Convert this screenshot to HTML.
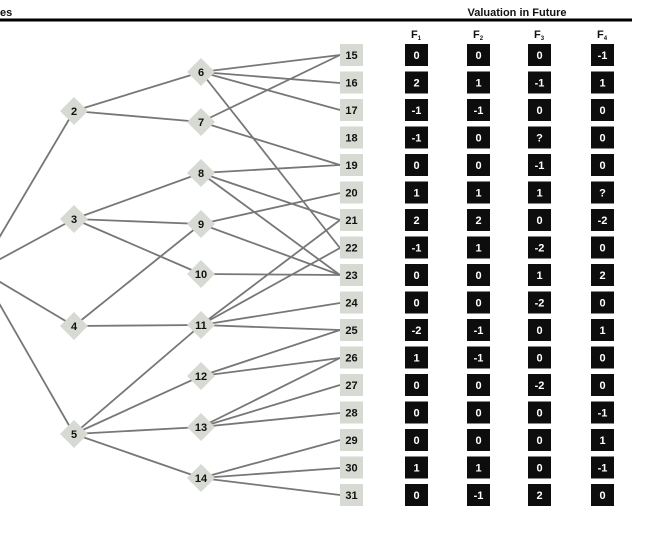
<!DOCTYPE html>
<html><head><meta charset="utf-8"><style>
html,body{margin:0;padding:0;background:#fff;width:646px;height:545px;overflow:hidden}
svg{display:block}
text{font-family:"Liberation Sans Narrow","Liberation Sans",sans-serif;font-weight:bold;font-size:11px}
</style></head><body>
<svg width="646" height="545" viewBox="0 0 646 545">
<text x="0" y="16" fill="#111">es</text>
<text x="517" y="16" fill="#111" text-anchor="middle">Valuation in Future</text>
<rect x="0" y="18.5" width="632" height="3" fill="#000"/>
<g fill="#111" text-anchor="middle">
<text x="416" y="38">F<tspan font-size="6" dy="2">1</tspan></text>
<text x="478" y="38">F<tspan font-size="6" dy="2">2</tspan></text>
<text x="539" y="38">F<tspan font-size="6" dy="2">3</tspan></text>
<text x="602" y="38">F<tspan font-size="6" dy="2">4</tspan></text>
</g>
<g stroke="#777" stroke-width="1.8" fill="none">
<line x1="-20" y1="270" x2="74" y2="111"/><line x1="-20" y1="270" x2="74" y2="219"/>
<line x1="-20" y1="270" x2="74" y2="326"/><line x1="-20" y1="270" x2="74" y2="434"/>
<line x1="74" y1="111" x2="201" y2="72"/><line x1="74" y1="111" x2="201" y2="122"/>
<line x1="74" y1="219" x2="201" y2="173"/><line x1="74" y1="219" x2="201" y2="224"/><line x1="74" y1="219" x2="201" y2="274"/>
<line x1="74" y1="326" x2="201" y2="224"/><line x1="74" y1="326" x2="201" y2="325"/>
<line x1="74" y1="434" x2="201" y2="325"/><line x1="74" y1="434" x2="201" y2="376"/><line x1="74" y1="434" x2="201" y2="427"/><line x1="74" y1="434" x2="201" y2="478"/>
<line x1="201" y1="72" x2="340" y2="55"/><line x1="201" y1="72" x2="340" y2="83"/><line x1="201" y1="72" x2="340" y2="110"/><line x1="201" y1="72" x2="340" y2="248"/>
<line x1="201" y1="122" x2="340" y2="55"/><line x1="201" y1="122" x2="340" y2="165"/>
<line x1="201" y1="173" x2="340" y2="165"/><line x1="201" y1="173" x2="340" y2="220"/><line x1="201" y1="173" x2="340" y2="275"/>
<line x1="201" y1="224" x2="340" y2="193"/><line x1="201" y1="224" x2="340" y2="275"/>
<line x1="201" y1="274" x2="340" y2="275"/>
<line x1="201" y1="325" x2="340" y2="220"/><line x1="201" y1="325" x2="340" y2="248"/><line x1="201" y1="325" x2="340" y2="303"/><line x1="201" y1="325" x2="340" y2="330"/>
<line x1="201" y1="376" x2="340" y2="330"/><line x1="201" y1="376" x2="340" y2="358"/>
<line x1="201" y1="427" x2="340" y2="358"/><line x1="201" y1="427" x2="340" y2="385"/><line x1="201" y1="427" x2="340" y2="413"/>
<line x1="201" y1="478" x2="340" y2="440"/><line x1="201" y1="478" x2="340" y2="468"/><line x1="201" y1="478" x2="340" y2="495"/>
</g>
<g id="dia" fill="#d6dad3"></g>
<g fill="#111" text-anchor="middle">
<text x="74" y="115">2</text><text x="74" y="223">3</text><text x="74" y="330">4</text><text x="74" y="438">5</text>
<text x="201" y="76">6</text><text x="201" y="126">7</text><text x="201" y="177">8</text><text x="201" y="228">9</text><text x="201" y="278">10</text><text x="201" y="329">11</text><text x="201" y="380">12</text><text x="201" y="431">13</text><text x="201" y="482">14</text>
</g>
<g id="rows"></g>
</svg>
<script>
var pts=[[74,111],[74,219],[74,326],[74,434],[201,72],[201,122],[201,173],[201,224],[201,274],[201,325],[201,376],[201,427],[201,478]],d="";
for(var k=0;k<pts.length;k++){var x=pts[k][0],y=pts[k][1];d+='<polygon points="'+x+','+(y-14)+' '+(x+14)+','+y+' '+x+','+(y+14)+' '+(x-14)+','+y+'"/>';}
document.getElementById("dia").innerHTML=d;
var vals=[["0","0","0","-1"],["2","1","-1","1"],["-1","-1","0","0"],["-1","0","?","0"],["0","0","-1","0"],["1","1","1","?"],["2","2","0","-2"],["-1","1","-2","0"],["0","0","1","2"],["0","0","-2","0"],["-2","-1","0","1"],["1","-1","0","0"],["0","0","-2","0"],["0","0","0","-1"],["0","0","0","1"],["1","1","0","-1"],["0","-1","2","0"]];
var xs=[405,467,528,591],g=document.getElementById("rows"),h="";
for(var i=0;i<17;i++){var cy=55+i*27.5;
h+='<rect x="340" y="'+(cy-11)+'" width="23" height="22" fill="#d6dad3"/><text x="351.5" y="'+(cy+4)+'" text-anchor="middle" fill="#111">'+(15+i)+'</text>';
for(var j=0;j<4;j++){h+='<rect x="'+xs[j]+'" y="'+(cy-11)+'" width="23" height="22" fill="#0d0d0d"/><text x="'+(xs[j]+11.5)+'" y="'+(cy+4)+'" text-anchor="middle" fill="#fff" font-size="10">'+vals[i][j]+'</text>';}}
g.innerHTML=h;
</script>
</body></html>
